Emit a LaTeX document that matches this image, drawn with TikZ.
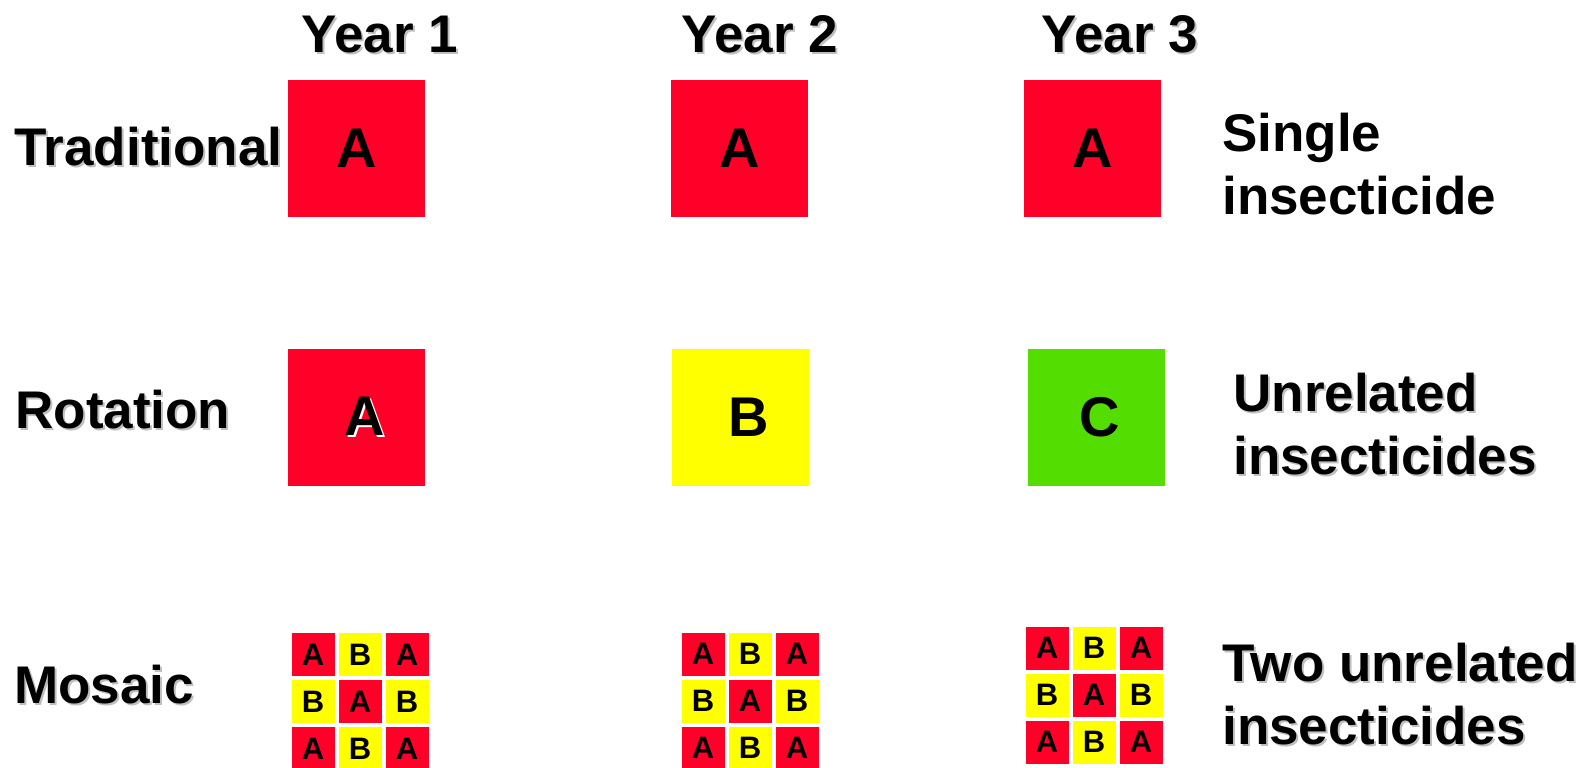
\documentclass[tikz,border=0pt]{standalone}
\usepackage{fontspec}
\setmainfont{Liberation Sans}
\usetikzlibrary{positioning}

\definecolor{insred}{RGB}{255,0,41}
\definecolor{insyellow}{RGB}{255,255,0}
\definecolor{insgreen}{RGB}{83,221,0}

% text with a small offset shadow
\newcommand{\shd}[2]{\makebox[0pt][l]{\kern1pt\raisebox{-1pt}{\color{#1}#2}}#2}

\begin{document}
\begin{tikzpicture}[
		x=0.5pt, y=-0.5pt,
		every node/.style={font=\fontsize{26.5}{31.5}\selectfont\bfseries},
		rowlabel/.style={anchor=base west, inner sep=0pt, align=left},
		yearlabel/.style={anchor=base, inner sep=0pt},
		field/.style={
			rectangle,
			inner sep=0pt,
			minimum size=68.5pt,
			font=\fontsize{28}{28}\selectfont\bfseries
		},
		plot/.style={
			rectangle,
			inner sep=0pt,
			minimum size=21.5pt,
			font=\fontsize{15.5}{15.5}\selectfont\bfseries
		}
		]
		\useasboundingbox (0,0) rectangle (1596,767);
		
		% Year headings
		\node[yearlabel] (year1) at (380,52) {\shd{black!25}{Year 1}};
		\node[yearlabel] (year2) at (760,52) {\shd{black!25}{Year 2}};
		\node[yearlabel] (year3) at (1120,52) {\shd{black!25}{Year 3}};
		
		% Row labels
		\node[rowlabel] (trad) at (14,165) {\shd{black!25}{Traditional}};
		\node[rowlabel] (rot) at (15,428) {\shd{black!25}{Rotation}};
		\node[rowlabel] (mos) at (14,703) {\shd{black!25}{Mosaic}};
		
		% Traditional: same insecticide every year
		\node[field, fill=insred] (trad1) at (356.5,148) {\raisebox{-2.5pt}{A}};
		\node[field, fill=insred] (trad2) at (739.5,148.5) {\raisebox{-2.5pt}{A}};
		\node[field, fill=insred] (trad3) at (1092.5,148.5) {\raisebox{-2.5pt}{A}};
		
		% Rotation: a new insecticide every year
		\node[field, fill=insred] (rot1) at (356.5,417) {\hspace{8pt}\shd{white}{A}};
		\node[field, fill=insyellow] (rot2) at (740.5,417) {\hspace{8pt}B};
		\node[field, fill=insgreen] (rot3) at (1096.5,417) {\hspace{3pt}C};
		
		% Mosaic: 3x3 checkerboard of A and B
		\foreach \yr/\cx/\cy in {1/360/701.5, 2/750/701, 3/1094/695} {
			\foreach \r in {1,2,3} {
				\foreach \c in {1,2,3} {
					\pgfmathtruncatemacro{\odd}{mod(\r+\c,2)}
					\ifnum\odd=0
					\node[plot, fill=insred] (mos\yr-\r-\c) at (\cx+47*\c-94, \cy+47*\r-94) {A};
					\else
					\node[plot, fill=insyellow] (mos\yr-\r-\c) at (\cx+47*\c-94, \cy+47*\r-94) {B};
					\fi
				}
			}
		}
		
		% Right-hand notes (base is the last line)
		\node[rowlabel] (single) at (1222,214) {Single\\insecticide};
		\node[rowlabel] (unrel) at (1233,474) {\shd{black!25}{Unrelated}\\\shd{black!25}{insecticides}};
		\node[rowlabel] (twounrel) at (1222,744) {\shd{black!25}{Two unrelated}\\\shd{black!25}{insecticides}};
		
	\end{tikzpicture}
\end{document}
